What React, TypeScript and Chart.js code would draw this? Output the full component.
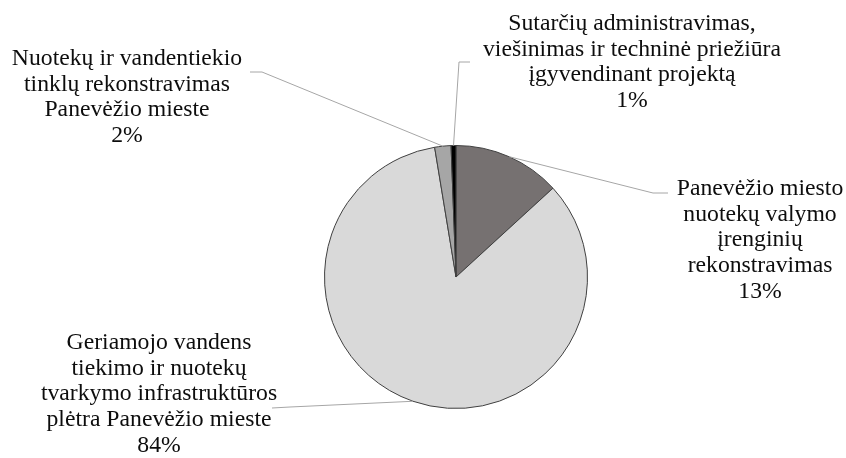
import React, { useEffect, useRef } from "react";
import { Chart, registerables } from "chart.js";

Chart.register(...registerables);

// ---- data ----
const categories: string[][] = [
  ["Panevėžio miesto", "nuotekų valymo", "įrenginių", "rekonstravimas"],
  ["Geriamojo vandens", "tiekimo ir nuotekų", "tvarkymo infrastruktūros", "plėtra Panevėžio mieste"],
  ["Nuotekų ir vandentiekio", "tinklų rekonstravimas", "Panevėžio mieste"],
  ["Sutarčių administravimas,", "viešinimas ir techninė priežiūra", "įgyvendinant projektą"],
];
const shares: number[] = [13.2, 84.2, 2.0, 0.6];
const sliceColors: string[] = ["#767171", "#d9d9d9", "#a6a6a6", "#000000"];

// ---- layout for labels (text block centre x, first baseline y, leader elbow, leader end) ----
const labelLayout = [
  { cx: 760, y0: 195, elbow: [653, 193], end: [668, 193] },
  { cx: 159, y0: 349, elbow: [290, 407], end: [272, 408] },
  { cx: 127, y0: 65, elbow: [262, 72], end: [250, 72] },
  { cx: 632, y0: 30, elbow: [459, 62], end: [470, 62] },
];
const LINE_H = 25.7;
const FONT = '23px "Liberation Serif", "Times New Roman", serif';
const H_SCALE = 1.03;

const labelPlugin = {
  id: "pieLabels",
  afterDatasetsDraw(chart: any) {
    const ctx: CanvasRenderingContext2D = chart.ctx;
    const meta = chart.getDatasetMeta(0);
    const data: number[] = chart.data.datasets[0].data;
    const total = data.reduce((a, b) => a + b, 0);
    ctx.save();
    meta.data.forEach((arc: any, i: number) => {
      const p = arc.getProps(["x", "y", "startAngle", "endAngle", "outerRadius"], true);
      const mid = (p.startAngle + p.endAngle) / 2;
      const sx = p.x + Math.cos(mid) * p.outerRadius;
      const sy = p.y + Math.sin(mid) * p.outerRadius;
      const L = labelLayout[i];
      ctx.strokeStyle = "#a6a6a6";
      ctx.lineWidth = 1;
      ctx.beginPath();
      ctx.moveTo(sx, sy);
      ctx.lineTo(L.elbow[0], L.elbow[1]);
      ctx.lineTo(L.end[0], L.end[1]);
      ctx.stroke();

      const lines = [...categories[i], Math.round((data[i] / total) * 100) + "%"];
      ctx.fillStyle = "#0d0d0d";
      ctx.font = FONT;
      ctx.textAlign = "center";
      ctx.textBaseline = "alphabetic";
      lines.forEach((t, k) => {
        ctx.save();
        ctx.translate(L.cx, L.y0 + k * LINE_H);
        ctx.scale(H_SCALE, 1);
        ctx.fillText(t, 0, 0);
        ctx.restore();
      });
    });
    ctx.restore();
  },
};

export default function App() {
  const ref = useRef<HTMLCanvasElement>(null);
  useEffect(() => {
    if (!ref.current) return;
    const chart = new Chart(ref.current, {
      type: "pie",
      data: {
        labels: categories.map((c) => c.join(" ")),
        datasets: [
          {
            data: shares,
            backgroundColor: sliceColors,
            borderColor: "#404040",
            borderWidth: 1,
          },
        ],
      },
      options: {
        responsive: false,
        animation: false,
        layout: { padding: { left: 324, right: 258, top: 145, bottom: 49 } },
        plugins: {
          legend: { display: false },
          tooltip: { enabled: false },
        },
      },
      plugins: [labelPlugin],
    });
    return () => chart.destroy();
  }, []);
  return (
    <div style={{ position: "fixed", left: 0, top: 0, width: 846, height: 458, background: "#fff" }}>
      <canvas ref={ref} width={846} height={458} style={{ display: "block" }} />
    </div>
  );
}
